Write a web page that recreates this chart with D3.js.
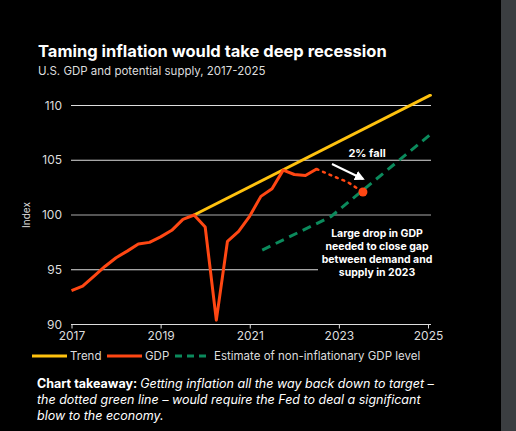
<!DOCTYPE html>
<html><head><meta charset="utf-8">
<script src="https://cdn.jsdelivr.net/npm/d3@7"></script>
<style>body{margin:0;background:#000;overflow:hidden}svg{display:block;font-family:"Inter","Noto Sans",sans-serif}</style>
</head><body><div id="chart"></div>
<script>
// data
var gdpYears = [2017,2017.25,2017.5,2017.75,2018,2018.25,2018.5,2018.75,2019,2019.25,2019.5,2019.75,2020,2020.25,2020.5,2020.75,2021,2021.25,2021.5,2021.75,2022,2022.25,2022.5];
var gdpValues = [93.1,93.5,94.4,95.3,96.1,96.7,97.35,97.5,98.0,98.6,99.6,100.0,98.9,90.4,97.6,98.5,99.9,101.7,102.4,104.1,103.7,103.6,104.2];
var dropYears = [2022.5,2022.9,2023.2,2023.54];
var dropValues = [104.2,103.5,103.0,102.1];
var trendYears = [2019.75,2025.08];
var trendValues = [100,111];
var estYears = [2021.28,2022.82,2025.08];
var estValues = [96.8,99.85,107.45];
var xTicks = [2017,2019,2021,2023,2025];
var yTicks = [90,95,100,105,110];

var W = 516, H = 431;
var svg = d3.select('#chart').append('svg').attr('width', W).attr('height', H);
svg.append('rect').attr('width', W).attr('height', H).attr('fill', '#000');
svg.append('rect').attr('x', 501).attr('width', 15).attr('height', H).attr('fill', '#3b3e41');

var x = d3.scaleLinear().domain([2017, 2025]).range([71.5, 428]);
var y = d3.scaleLinear().domain([90, 110]).range([324.5, 105.5]);

// grid
yTicks.forEach(function(t) {
    if (t === 90) return;
    svg.append('line').attr('x1', 71).attr('x2', t === 95 ? 318 : 431)
        .attr('y1', y(t)).attr('y2', y(t)).attr('stroke', t === 100 ? '#aaa' : '#ddd').attr('stroke-width', 1);
    svg.append('text').attr('x', 62).attr('y', y(t) + 4).attr('text-anchor', 'end')
        .attr('fill', '#ddd').attr('font-size', 12).text(t);
});
svg.append('text').attr('x', 62).attr('y', y(90) + 4).attr('text-anchor', 'end')
    .attr('fill', '#ddd').attr('font-size', 12).text(90);

// x axis
var xAxis = svg.append('g').attr('transform', 'translate(0,' + y(90) + ')')
    .call(d3.axisBottom(x).tickValues(xTicks).tickFormat(d3.format('d')).tickSize(4).tickPadding(3));
xAxis.select('.domain').attr('stroke', '#ddd').attr('d', 'M71,0H431');
xAxis.selectAll('line').attr('stroke', '#ddd');
xAxis.selectAll('text').attr('fill', '#ddd').attr('font-size', 12).attr('font-family', 'Inter, Noto Sans, sans-serif');

svg.append('text').attr('transform', 'translate(30,' + y(100) + ') rotate(-90)')
    .attr('text-anchor', 'middle').attr('fill', '#ddd').attr('font-size', 10).text('Index');

var line = d3.line().x(function(d) { return x(d[0]); }).y(function(d) { return y(d[1]); });
var zip = function(a, b) { return a.map(function(v, i) { return [v, b[i]]; }); };

var clip = svg.append('clipPath').attr('id', 'c').append('rect')
    .attr('x', 60).attr('y', 94).attr('width', 372).attr('height', 240);
var plot = svg.append('g').attr('clip-path', 'url(#c)');

plot.append('path').attr('d', line(zip(estYears, estValues))).attr('fill', 'none')
    .attr('stroke', '#0b8a5c').attr('stroke-width', 3).attr('stroke-dasharray', '9,6');
plot.append('path').attr('d', line(zip(trendYears, trendValues))).attr('fill', 'none')
    .attr('stroke', '#ffc20e').attr('stroke-width', 3);
plot.append('path').attr('d', line(zip(gdpYears, gdpValues))).attr('fill', 'none')
    .attr('stroke', '#ff4713').attr('stroke-width', 3).attr('stroke-linejoin', 'round');
plot.append('path').attr('d', line(zip(dropYears, dropValues))).attr('fill', 'none')
    .attr('stroke', '#ff4713').attr('stroke-width', 2.5).attr('stroke-dasharray', '2,5').attr('stroke-linecap', 'round');
plot.append('circle').attr('cx', x(dropYears[3])).attr('cy', y(dropValues[3])).attr('r', 4.5).attr('fill', '#ff4713');

// annotations
svg.append('defs').append('marker').attr('id', 'ah').attr('viewBox', '0 0 10 10')
    .attr('refX', 8).attr('refY', 5).attr('markerWidth', 5).attr('markerHeight', 5).attr('orient', 'auto')
    .append('path').attr('d', 'M0,0L10,5L0,10z').attr('fill', '#fff');
svg.append('line').attr('x1', 332).attr('y1', 164).attr('x2', 363).attr('y2', 179)
    .attr('stroke', '#fff').attr('stroke-width', 2).attr('marker-end', 'url(#ah)');
svg.append('text').attr('x', 367).attr('y', 157).attr('text-anchor', 'middle').attr('fill', '#fff')
    .attr('font-size', 11).attr('font-weight', 700).text('2% fall');
var ann = ['Large drop in GDP', 'needed to close gap', 'between demand and', 'supply in 2023'];
ann.forEach(function(t, i) {
    svg.append('text').attr('x', 377).attr('y', 237 + i * 13).attr('text-anchor', 'middle')
        .attr('fill', '#fff').attr('font-size', 10.5).attr('font-weight', 700).text(t);
});

// title
svg.append('text').attr('x', 38).attr('y', 57).attr('fill', '#fff').attr('font-size', 16.5)
    .attr('font-weight', 700).text('Taming inflation would take deep recession');
svg.append('text').attr('x', 38).attr('y', 75).attr('fill', '#ddd').attr('font-size', 11.5)
    .text('U.S. GDP and potential supply, 2017-2025');

// legend
var lg = svg.append('g').attr('font-size', 11.5).attr('fill', '#ddd');
lg.append('line').attr('x1', 32).attr('x2', 67).attr('y1', 356).attr('y2', 356).attr('stroke', '#ffc20e').attr('stroke-width', 3);
lg.append('text').attr('x', 70).attr('y', 360).text('Trend');
lg.append('line').attr('x1', 107).attr('x2', 142).attr('y1', 356).attr('y2', 356).attr('stroke', '#ff4713').attr('stroke-width', 3);
lg.append('text').attr('x', 145).attr('y', 360).text('GDP');
lg.append('line').attr('x1', 175).attr('x2', 209).attr('y1', 356).attr('y2', 356).attr('stroke', '#0b8a5c').attr('stroke-width', 3).attr('stroke-dasharray', '7,5');
lg.append('text').attr('x', 214).attr('y', 360).text('Estimate of non-inflationary GDP level');

// takeaway
var tk = svg.append('text').attr('fill', '#fff').attr('font-size', 12.5);
var t1 = tk.append('tspan').attr('x', 37).attr('y', 388);
t1.append('tspan').attr('font-weight', 700).text('Chart takeaway: ');
t1.append('tspan').attr('font-style', 'italic').text('Getting inflation all the way back down to target \u2013');
tk.append('tspan').attr('x', 37).attr('y', 404).attr('font-style', 'italic').text('the dotted green line \u2013 would require the Fed to deal a significant');
tk.append('tspan').attr('x', 37).attr('y', 420).attr('font-style', 'italic').text('blow to the economy.');
</script>
</body></html>
